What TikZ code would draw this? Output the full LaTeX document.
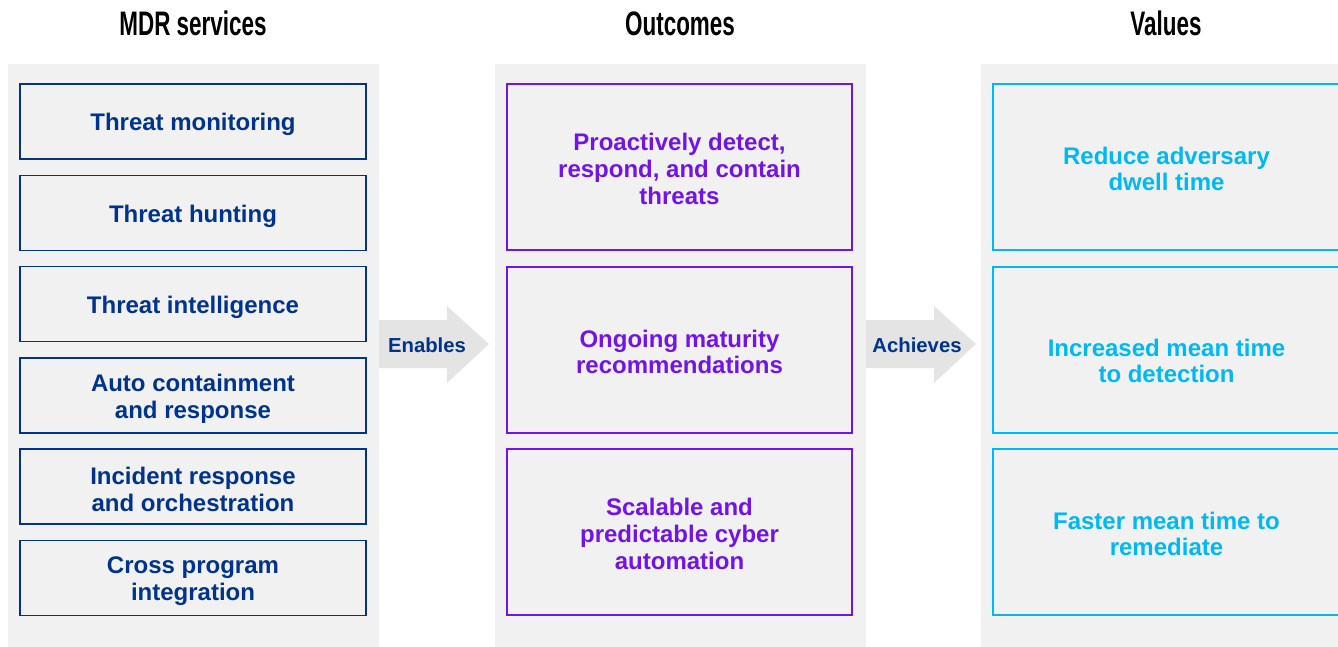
\documentclass[tikz,border=0pt]{standalone}
\usepackage{fontspec}
\setmainfont{Liberation Sans}
\newfontfamily\headfont[FakeStretch=0.66]{Liberation Sans}
\definecolor{kblue}{HTML}{00338D}
\definecolor{kpurple}{HTML}{7213EA}
\definecolor{kcyan}{HTML}{00B8F5}
\definecolor{bggray}{HTML}{F1F1F1}
\definecolor{arrgray}{HTML}{E4E4E4}
\tikzset{
  panel/.style={fill=bggray, draw=none},
  head/.style={anchor=base, font=\headfont\bfseries\fontsize{34}{36}\selectfont, text=black},
  boxbase/.style={line width=1.2pt, inner sep=0pt},
  txt/.style={align=center, inner sep=0pt, font=\bfseries\fontsize{24}{26.8}\selectfont},
  svc/.style={boxbase, draw=kblue, minimum width=346pt, minimum height=75pt},
  outc/.style={boxbase, draw=kpurple, minimum width=345pt, minimum height=166pt},
  valb/.style={boxbase, draw=kcyan, minimum width=347pt, minimum height=166pt},
  svct/.style={txt, text=kblue},
  outct/.style={txt, text=kpurple},
  valt/.style={txt, text=kcyan},
  flow/.style={fill=arrgray, draw=none},
  flowlabel/.style={text=kblue, font=\bfseries\fontsize{20.3}{24}\selectfont, inner sep=0pt}
}
\begin{document}
\begin{tikzpicture}[x=1pt,y=-1pt]
\useasboundingbox (0,0) rectangle (1338,647);
\clip (0,0) rectangle (1338,647);
\fill[white] (0,0) rectangle (1338,647);
% panels
\fill[panel] (8,64) rectangle (379,650);
\fill[panel] (495,64) rectangle (866,650);
\fill[panel] (981,64) rectangle (1360,650);
% headers
\node[head] (h1) at (193,36) {MDR services};
\node[head] (h2) at (680,36) {Outcomes};
\node[head] (h3) at (1166,36) {Values};
% MDR services
\node[svc] (s1) at (193,121.5) {};
\node[svc] (s2) at (193,213) {};
\node[svc] (s3) at (193,304) {};
\node[svc] (s4) at (193,395.5) {};
\node[svc] (s5) at (193,486.5) {};
\node[svc] (s6) at (193,578) {};
\node[svct] (s1t) at ([yshift=-3pt]s1.center) {Threat monitoring};
\node[svct] (s2t) at ([yshift=-3pt]s2.center) {Threat hunting};
\node[svct] (s3t) at ([yshift=-3pt]s3.center) {Threat intelligence};
\node[svct] (s4t) at ([yshift=-3pt]s4.center) {Auto containment\\and response};
\node[svct] (s5t) at ([yshift=-3pt]s5.center) {Incident response\\and orchestration};
\node[svct] (s6t) at ([yshift=-3pt]s6.center) {Cross program\\integration};
% Outcomes
\node[outc] (o1) at (679.5,167) {};
\node[outc] (o2) at (679.5,350) {};
\node[outc] (o3) at (679.5,532) {};
\node[outct] (o1t) at ([yshift=-2pt]o1.center) {Proactively detect,\\respond, and contain\\threats};
\node[outct] (o2t) at ([yshift=-2pt]o2.center) {Ongoing maturity\\recommendations};
\node[outct] (o3t) at ([yshift=-2pt]o3.center) {Scalable and\\predictable cyber\\automation};
% Values
\node[valb] (v1) at (1166.5,167) {};
\node[valb] (v2) at (1166.5,350) {};
\node[valb] (v3) at (1166.5,532) {};
\node[valt] (v1t) at ([yshift=-2pt]v1.center) {Reduce adversary\\dwell time};
\node[valt] (v2t) at ([yshift=-11pt]v2.center) {Increased mean time\\to detection};
\node[valt] (v3t) at ([yshift=-2pt]v3.center) {Faster mean time to\\remediate};
% flow arrows
\fill[flow] (379,320) -- (447,320) -- (447,306) -- (489,344) -- (447,383) -- (447,368) -- (379,368) -- cycle;
\fill[flow] (866,320) -- (934,320) -- (934,306) -- (976,344) -- (934,383) -- (934,368) -- (866,368) -- cycle;
\node[flowlabel] (a1) at (427,345) {Enables};
\node[flowlabel] (a2) at (917,345) {Achieves};
\end{tikzpicture}
\end{document}
